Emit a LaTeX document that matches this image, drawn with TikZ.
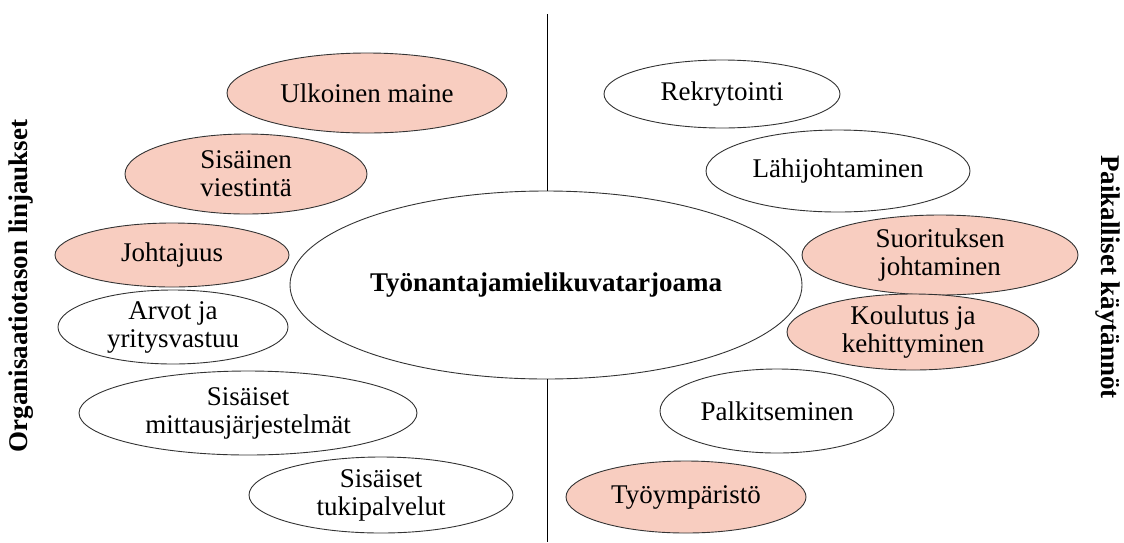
\documentclass[tikz,border=0pt]{standalone}
\usepackage{fontspec}
\setmainfont{Liberation Serif}
\usetikzlibrary{shapes.geometric}
\definecolor{pinkfill}{RGB}{248,205,192}
\tikzset{
  oval/.style={ellipse, draw=black!80, line width=0.9pt, inner sep=0pt, align=center,
    font=\fontsize{27}{28}\selectfont},
  hl/.style={oval, fill=pinkfill},
  sidelabel/.style={font=\fontsize{27}{28}\selectfont\bfseries, inner sep=0pt}
}
\begin{document}
\begin{tikzpicture}[x=1pt,y=-1pt]
\useasboundingbox (0,0) rectangle (1124,542);
% central
\node[oval, minimum width=512pt, minimum height=188pt, font=\fontsize{27}{28}\selectfont\bfseries] (c) at (546,285) {Työnantajamielikuvatarjoama};
\coordinate (top) at (547,14);
\coordinate (bot) at (547,542);
\draw[line width=0.9pt] (top) -- (c.north -| top);
\draw[line width=0.9pt] (c.south -| bot) -- (bot);
% left
\node[hl, minimum width=280pt, minimum height=80pt] (ulk) at (367,93) {Ulkoinen maine};
\node[hl, minimum width=242pt, minimum height=80pt] (sis) at (246,174) {Sisäinen\\viestintä};
\node[hl, minimum width=234pt, minimum height=64pt] (joh) at (172,255) {Johtajuus};
\node[oval, minimum width=230pt, minimum height=74pt] (arv) at (173,327) {Arvot ja\\yritysvastuu};
\node[oval, minimum width=338pt, minimum height=84pt] (mit) at (248,413) {Sisäiset\\mittausjärjestelmät};
\node[oval, minimum width=264pt, minimum height=76pt] (tuk) at (381,495) {Sisäiset\\tukipalvelut};
% right
\node[oval, minimum width=236pt, minimum height=68pt] (rek) at (722,94) {Rekrytointi};
\node[oval, minimum width=264pt, minimum height=82pt] (lah) at (838,171) {Lähijohtaminen};
\node[hl, minimum width=276pt, minimum height=80pt] (suo) at (940,255) {Suorituksen\\johtaminen};
\node[hl, minimum width=252pt, minimum height=76pt] (kou) at (913,332) {Koulutus ja\\kehittyminen};
\node[oval, minimum width=234pt, minimum height=84pt] (pal) at (777,411) {Palkitseminen};
\node[hl, minimum width=240pt, minimum height=72pt] (tyo) at (686,497) {Työympäristö};
% side labels
\node[sidelabel, rotate=90] (org) at (21,286) {Organisaatiotason linjaukset};
\node[sidelabel, rotate=-90] (paik) at (1108,277) {Paikalliset käytännöt};
\end{tikzpicture}
\end{document}
